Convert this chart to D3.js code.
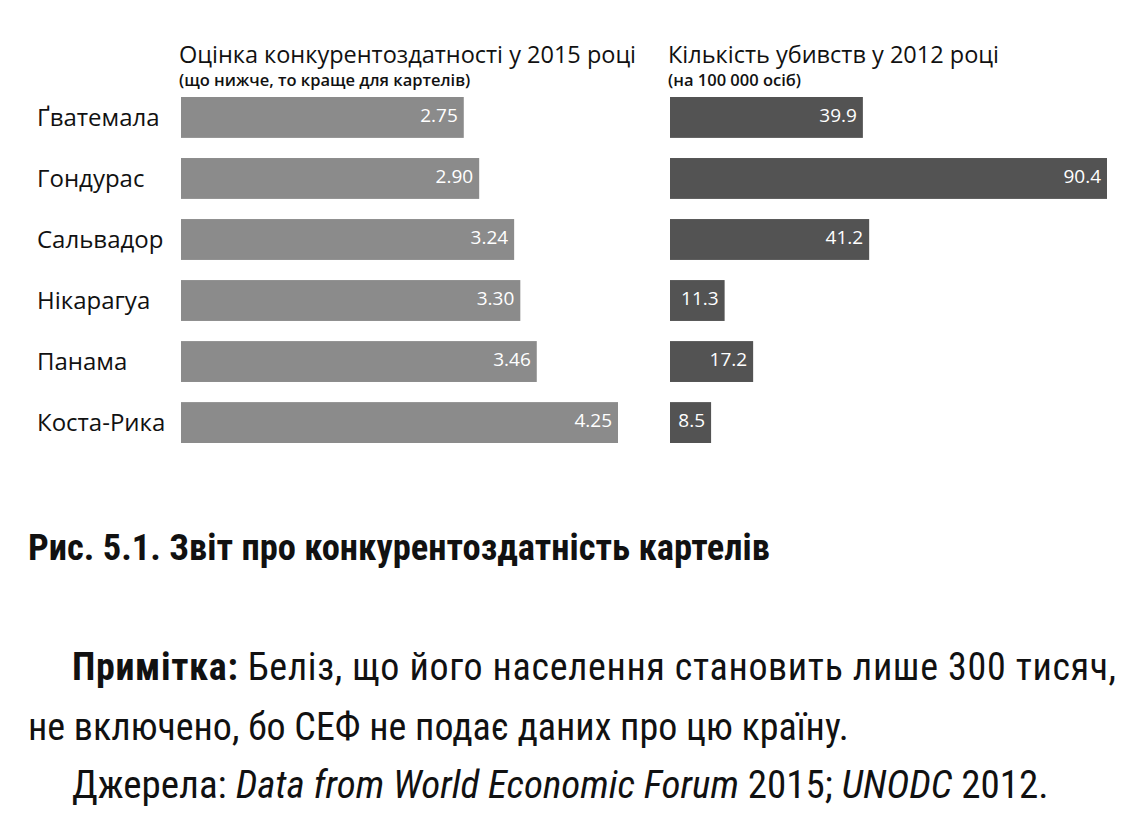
<!DOCTYPE html>
<html><head><meta charset="utf-8">
<script src="https://cdn.jsdelivr.net/npm/d3@7"></script>
<style>body{margin:0;background:#fff}</style>
</head><body><svg id="c" width="1146" height="817"></svg>
<script>
const countries = ["Ґватемала","Гондурас","Сальвадор","Нікарагуа","Панама","Коста-Рика"]
const competitiveness = [2.75, 2.90, 3.24, 3.30, 3.46, 4.25]
const homicides = [39.9, 90.4, 41.2, 11.3, 17.2, 8.5]

const svg = d3.select("#c")
const sans = "'Open Sans', 'Noto Sans', sans-serif"
const narrow = "'Liberation Sans Narrow', 'Roboto Condensed', 'Liberation Sans', sans-serif"

const y = d3.scaleBand().domain(countries).range([97, 443]).paddingInner(0.33)
const xl = d3.scaleLinear().domain([0, 4.25]).range([181, 618])
const xr = d3.scaleLinear().domain([0, 90.4]).range([670, 1107])

function panel(xs, vals, color, fmt, title, sub, tx) {
  const g = svg.append("g")
  g.selectAll("rect").data(countries).join("rect")
    .attr("x", xs(0)).attr("y", d => y(d))
    .attr("width", (d, i) => xs(vals[i]) - xs(0)).attr("height", y.bandwidth())
    .attr("fill", color)
  g.selectAll("text.v").data(countries).join("text").attr("class", "v")
    .attr("x", (d, i) => xs(vals[i]) - 6).attr("y", d => y(d) + y.bandwidth() / 2 - 2)
    .attr("dy", "0.35em").attr("text-anchor", "end")
    .attr("fill", "#fff").attr("font-family", sans).attr("font-size", 19)
    .text((d, i) => fmt(vals[i]))
  g.append("text").attr("x", tx).attr("y", 63).attr("font-family", sans)
    .attr("font-size", 23.5).attr("fill", "#111").text(title)
  g.append("text").attr("x", tx).attr("y", 86).attr("font-family", sans)
    .attr("font-size", 16.5).attr("font-weight", 600).attr("fill", "#111").text(sub)
}
panel(xl, competitiveness, "#8b8b8b", d3.format(".2f"),
  "Оцінка конкурентоздатності у 2015 році", "(що нижче, то краще для картелів)", 179)
panel(xr, homicides, "#535353", d3.format(".1f"),
  "Кількість убивств у 2012 році", "(на 100 000 осіб)", 668)

svg.selectAll("text.c").data(countries).join("text").attr("class", "c")
  .attr("x", 37).attr("y", d => y(d) + y.bandwidth() / 2)
  .attr("dy", "0.35em").attr("font-family", sans).attr("font-size", 24)
  .attr("fill", "#111").text(d => d)

svg.append("text").attr("x", 28).attr("y", 560).attr("font-family", narrow)
  .attr("font-weight", "bold").attr("font-size", 36.5).attr("fill", "#111")
  .text("Рис. 5.1. Звіт про конкурентоздатність картелів")

const note = svg.append("text").attr("x", 72).attr("y", 680).attr("font-family", narrow)
  .attr("font-size", 38).attr("fill", "#111")
  .attr("textLength", 1044).attr("lengthAdjust", "spacing")
note.append("tspan").attr("font-weight", "bold").text("Примітка:")
note.append("tspan").text(" Беліз, що його населення становить лише 300 тисяч,")
svg.append("text").attr("x", 28).attr("y", 740).attr("font-family", narrow)
  .attr("font-size", 38).attr("fill", "#111")
  .text("не включено, бо СЕФ не подає даних про цю країну.")
const src = svg.append("text").attr("x", 72).attr("y", 798).attr("font-family", narrow)
  .attr("font-size", 39).attr("fill", "#111")
src.append("tspan").text("Джерела: ")
src.append("tspan").attr("font-style", "italic").text("Data from World Economic Forum")
src.append("tspan").text(" 2015; ")
src.append("tspan").attr("font-style", "italic").text("UNODC")
src.append("tspan").text(" 2012.")
</script></body></html>
